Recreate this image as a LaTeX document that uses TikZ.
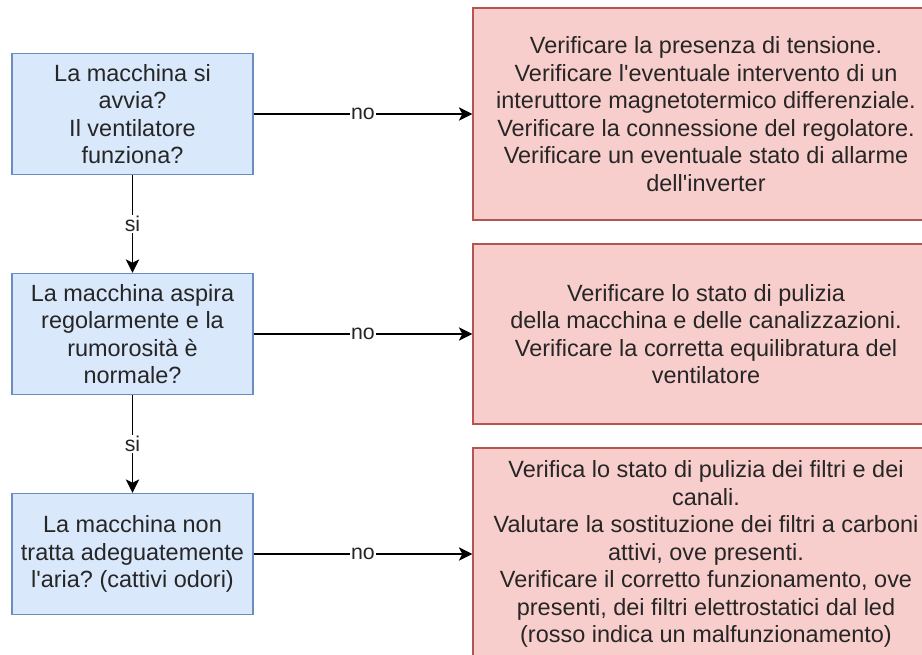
\documentclass[tikz,border=0pt]{standalone}
\usepackage{fontspec}
\setmainfont{Liberation Sans}
\usetikzlibrary{positioning,arrows.meta}
\definecolor{qfill}{HTML}{DAE8FC}
\definecolor{qline}{HTML}{6C8EBF}
\definecolor{afill}{HTML}{F8CECC}
\definecolor{aline}{HTML}{B85450}
\frenchspacing

\begin{document}
\begin{tikzpicture}[
    x=0.75pt, y=-0.75pt,
    question/.style={rectangle, draw=qline, fill=qfill, line width=1.1pt,
        minimum width=180.75pt, minimum height=90.75pt, inner sep=0pt, align=center,
        text=black!85, font=\fontsize{17.6pt}{20.6pt}\selectfont},
    action/.style={rectangle, draw=aline, fill=afill, line width=1.1pt,
        minimum width=349.5pt, inner sep=0pt, align=center,
        text=black!85, font=\fontsize{17.6pt}{20.6pt}\selectfont},
    edge/.style={draw, line width=1.1pt, -{Stealth[length=10pt, width=10pt, inset=2.5pt]}},
    answer/.style={fill=white, inner sep=1pt, text=black!85, font=\fontsize{16pt}{18pt}\selectfont}
]
\clip (0,0) rectangle (922,655);
\fill[white] (0,0) rectangle (922,655);

% Define node positions
\node[question] (q1) at (132.5,114) {La macchina si\\avvia?\\Il ventilatore\\funziona?};
\node[question] (q2) at (132.5,334) {La macchina aspira\\regolarmente e la\\rumorosit\`a \`e\\normale?};
\node[question] (q3) at (132.5,554) {La macchina non\\tratta adeguatemente\\l\textquotesingle aria? (cattivi odori)};

\node[action, minimum height=159pt] (a1) at (706,114) {Verificare la presenza di tensione.\\Verificare l\textquotesingle eventuale intervento di un\\interuttore magnetotermico differenziale.\\Verificare la connessione del regolatore.\\Verificare un eventuale stato di allarme\\dell\textquotesingle inverter};
\node[action, minimum height=135pt] (a2) at (706,334) {Verificare lo stato di pulizia\\della macchina e delle canalizzazioni.\\Verificare la corretta equilibratura del\\ventilatore};
\node[action, minimum height=159pt] (a3) at (706,554) {Verifica lo stato di pulizia dei filtri e dei\\canali.\\Valutare la sostituzione dei filtri a carboni\\attivi, ove presenti.\\Verificare il corretto funzionamento, ove\\presenti, dei filtri elettrostatici dal led\\(rosso indica un malfunzionamento)};

% Draw edges with answers
\draw[edge] (q1) -- (q2) node[answer, midway] {si};
\draw[edge] (q2) -- (q3) node[answer, midway] {si};
\draw[edge] (q1) -- (a1) node[answer, midway] {no};
\draw[edge] (q2) -- (a2) node[answer, midway] {no};
\draw[edge] (q3) -- (a3) node[answer, midway] {no};

\end{tikzpicture}
\end{document}
